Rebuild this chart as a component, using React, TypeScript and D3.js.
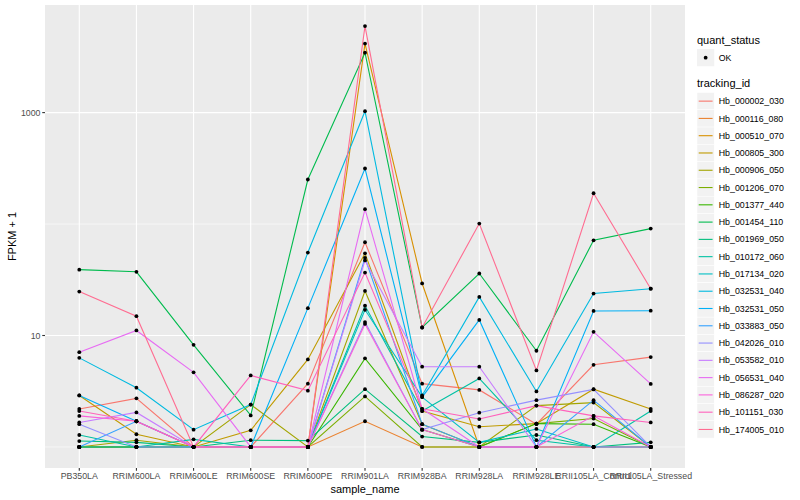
import React from 'react';
import * as d3 from 'd3';

const samples = [
  'PB350LA', 'RRIM600LA', 'RRIM600LE', 'RRIM600SE', 'RRIM600PE', 'RRIM901LA',
  'RRIM928BA', 'RRIM928LA', 'RRIM928LE', 'RRII105LA_Control', 'RRII105LA_Stressed',
];

const trackingIds = [
  'Hb_000002_030', 'Hb_000116_080', 'Hb_000510_070', 'Hb_000805_300', 'Hb_000906_050',
  'Hb_001206_070', 'Hb_001377_440', 'Hb_001454_110', 'Hb_001969_050', 'Hb_010172_060',
  'Hb_017134_020', 'Hb_032531_040', 'Hb_032531_050', 'Hb_033883_050', 'Hb_042026_010',
  'Hb_053582_010', 'Hb_056531_040', 'Hb_086287_020', 'Hb_101151_030', 'Hb_174005_010',
];

// FPKM + 1, one row per tracking id, one value per sample
const fpkm: number[][] = [
  [2.19, 2.73, 1, 1, 3.7, 68.7, 3.7, 3.25, 1.6, 5.46, 6.4],
  [1, 1, 1, 1, 1, 1.7, 1, 1, 1, 1, 1],
  [1, 1, 1, 1, 1, 4160, 29.3, 1, 1, 1, 1],
  [2.9, 1.3, 1, 1.41, 6.1, 54.6, 2.1, 1.52, 1.62, 3.3, 2.19],
  [1, 1.15, 1, 2.4, 1, 25.1, 1.6, 1, 2.35, 2.5, 1],
  [1, 1, 1, 1, 1, 2.84, 1, 1, 1.62, 1.8, 1],
  [1, 1, 1, 1, 1, 6.24, 1.43, 1, 1.62, 1.6, 1],
  [39, 37.3, 8.25, 1.92, 251, 3450, 11.8, 36, 7.3, 71.5, 91],
  [1.13, 1.1, 1, 1.15, 1.14, 3.3, 1.24, 1.1, 1.28, 1, 1.1],
  [1.28, 1, 1.17, 1, 1, 18.5, 2.1, 4.12, 1.15, 1, 2.1],
  [1, 1, 1, 1, 1, 17, 2.8, 1.1, 1.45, 1, 1],
  [6.3, 3.4, 1.43, 2.4, 55.5, 1030, 2.9, 22.2, 3.15, 23.8, 26.3],
  [2.9, 1.7, 1, 1, 17.6, 315, 2.8, 13.8, 1, 16.6, 16.7],
  [1, 1.7, 1, 1, 1, 49.8, 1.6, 1, 1, 2.63, 1],
  [1.6, 1, 1, 1, 1, 13.2, 1.43, 2.03, 2.63, 3.28, 1],
  [1.66, 2.04, 1, 1, 1, 47.2, 5.25, 5.25, 1, 1, 1],
  [7.09, 11.1, 4.67, 1, 1, 136, 2.2, 1, 1, 10.8, 3.68],
  [1.9, 1.7, 1, 1, 1, 12.7, 1.43, 1, 1, 1.9, 1],
  [2.1, 1.7, 1, 4.38, 3.2, 36.7, 2.2, 1.78, 2.35, 1.9, 1.66],
  [24.8, 14.9, 1, 1, 1, 5980, 11.8, 101, 4.86, 189, 26.3],
];

const yTicks = [10, 1000];
const yMinor = [1, 100];

// ggplot2 default hue palette for 20 levels
const palette = [
  '#F8766D', '#EA8331', '#D89000', '#C09B00', '#A3A500', '#7CAE00', '#39B600',
  '#00BB4E', '#00BF7D', '#00C1A3', '#00BFC4', '#00BAE0', '#00B0F6', '#35A2FF',
  '#9590FF', '#C77CFF', '#E76BF3', '#FA62DB', '#FF62BC', '#FF6C91',
];

const W = 800;
const H = 500;
const panel = { left: 45, right: 685, top: 5, bottom: 468 };
const font = '"Liberation Sans", Arial, sans-serif';

export default function App() {
  const color = d3.scaleOrdinal<string, string>().domain(trackingIds).range(palette);

  const x = d3.scalePoint<string>()
    .domain(samples)
    .range([panel.left, panel.right])
    .padding(0.6);

  const all = fpkm.flat();
  const lo = Math.log10(d3.min(all) as number);
  const hi = Math.log10(d3.max(all) as number);
  const pad = (hi - lo) * 0.05;
  const y = d3.scaleLog()
    .domain([Math.pow(10, lo - pad), Math.pow(10, hi + pad)])
    .range([panel.bottom, panel.top]);

  const line = d3.line<number>()
    .x((_, i) => x(samples[i]) as number)
    .y(d => y(d));

  const legX = 697;
  const keySize = 17.28;
  const entryTop = 92.5;

  return (
    <svg width={W} height={H} style={{ position: 'absolute', left: 0, top: 0, background: '#fff' }}
      fontFamily={font}>
      <rect x={panel.left} y={panel.top} width={panel.right - panel.left}
        height={panel.bottom - panel.top} fill="#EBEBEB" />
      {yMinor.map(t => (
        <line key={'m' + t} x1={panel.left} x2={panel.right} y1={y(t)} y2={y(t)}
          stroke="#fff" strokeWidth={0.55} />
      ))}
      {yTicks.map(t => (
        <line key={'g' + t} x1={panel.left} x2={panel.right} y1={y(t)} y2={y(t)}
          stroke="#fff" strokeWidth={1.1} />
      ))}
      {samples.map(s => (
        <line key={'v' + s} x1={x(s)} x2={x(s)} y1={panel.top} y2={panel.bottom}
          stroke="#fff" strokeWidth={1.1} />
      ))}

      {fpkm.map((row, i) => (
        <path key={'l' + i} d={line(row) as string} fill="none" stroke={color(trackingIds[i])} strokeWidth={1.1} />
      ))}
      {fpkm.map((row, i) => row.map((v, j) => (
        <circle key={'p' + i + '-' + j} cx={x(samples[j])} cy={y(v)} r={1.9} fill="#000" />
      )))}

      {/* y axis */}
      {yTicks.map(t => (
        <g key={'yt' + t}>
          <line x1={panel.left - 2.75} x2={panel.left} y1={y(t)} y2={y(t)} stroke="#333" strokeWidth={1.1} />
          <text x={panel.left - 4.5} y={y(t)} dy="0.35em" textAnchor="end" fontSize={8.8} fill="#4D4D4D">{t}</text>
        </g>
      ))}
      <text transform={`translate(15.5, ${(panel.top + panel.bottom) / 2}) rotate(-90)`}
        textAnchor="middle" fontSize={11} fill="#000">FPKM + 1</text>

      {/* x axis */}
      {samples.map(s => (
        <g key={'xt' + s}>
          <line x1={x(s)} x2={x(s)} y1={panel.bottom} y2={panel.bottom + 2.75} stroke="#333" strokeWidth={1.1} />
          <text x={x(s)} y={panel.bottom + 10.5} textAnchor="middle" fontSize={8.8} fill="#4D4D4D">{s}</text>
        </g>
      ))}
      <text x={(panel.left + panel.right) / 2} y={493} textAnchor="middle" fontSize={11} fill="#000">sample_name</text>

      {/* legend: quant_status */}
      <text x={legX} y={44} fontSize={11} fill="#000">quant_status</text>
      <rect x={legX} y={49} width={keySize} height={keySize} fill="#F2F2F2" />
      <circle cx={legX + keySize / 2} cy={49 + keySize / 2} r={1.9} fill="#000" />
      <text x={legX + keySize + 4.5} y={49 + keySize / 2} dy="0.35em" fontSize={8.8} fill="#000">OK</text>

      {/* legend: tracking_id */}
      <text x={legX} y={87} fontSize={11} fill="#000">tracking_id</text>
      {trackingIds.map((id, i) => {
        const ty = entryTop + i * keySize;
        return (
          <g key={'lg' + id}>
            <rect x={legX} y={ty} width={keySize} height={keySize} fill="#F2F2F2" stroke="#fff" strokeWidth={0.5} />
            <line x1={legX + 1.7} x2={legX + keySize - 1.7} y1={ty + keySize / 2} y2={ty + keySize / 2}
              stroke={color(id)} strokeWidth={1.1} />
            <text x={legX + keySize + 4.5} y={ty + keySize / 2} dy="0.35em" fontSize={8.8} fill="#000">{id}</text>
          </g>
        );
      })}
    </svg>
  );
}
